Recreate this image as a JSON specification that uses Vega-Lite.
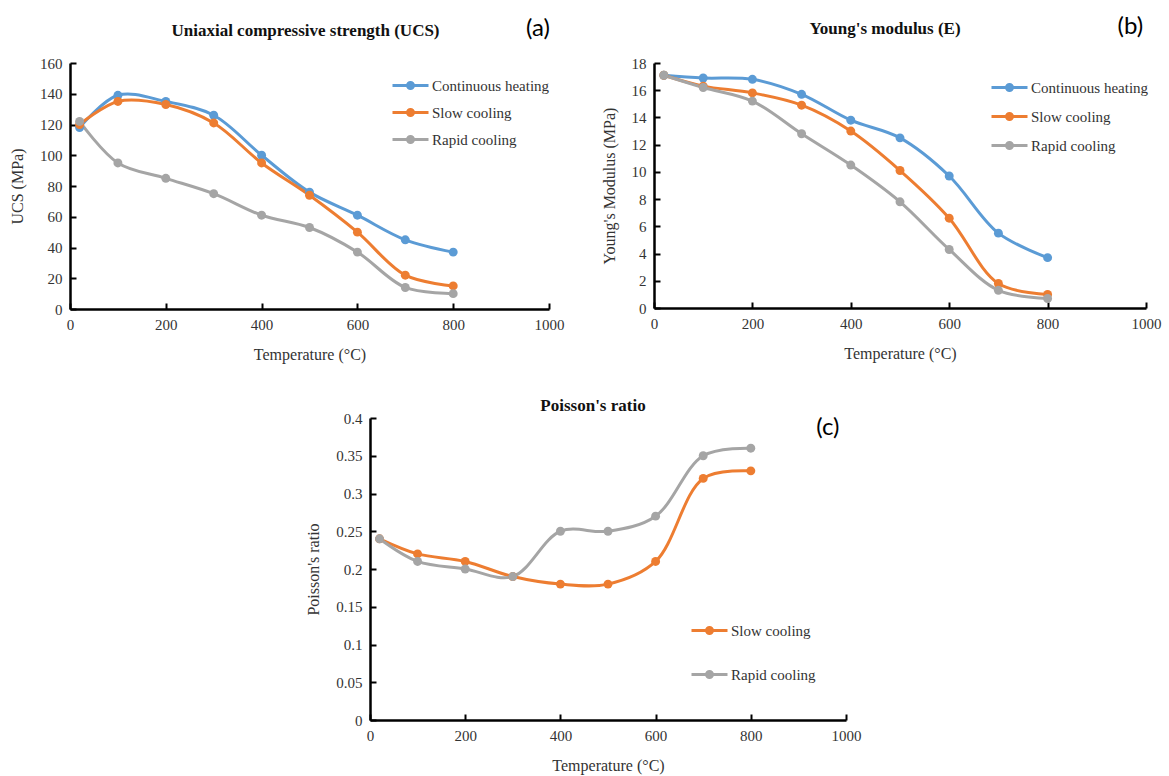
{
  "$schema": "https://vega.github.io/schema/vega-lite/v6.json",
  "background": "white",
  "padding": {"left": 9, "top": 15, "right": 2, "bottom": 2},
  "datasets": {
    "ucs": [
      {"T": 20, "v": 118, "s": "Continuous heating"},
      {"T": 100, "v": 139, "s": "Continuous heating"},
      {"T": 200, "v": 135, "s": "Continuous heating"},
      {"T": 300, "v": 126, "s": "Continuous heating"},
      {"T": 400, "v": 100, "s": "Continuous heating"},
      {"T": 500, "v": 76, "s": "Continuous heating"},
      {"T": 600, "v": 61, "s": "Continuous heating"},
      {"T": 700, "v": 45, "s": "Continuous heating"},
      {"T": 800, "v": 37, "s": "Continuous heating"},
      {"T": 20, "v": 120, "s": "Slow cooling"},
      {"T": 100, "v": 135, "s": "Slow cooling"},
      {"T": 200, "v": 133, "s": "Slow cooling"},
      {"T": 300, "v": 121, "s": "Slow cooling"},
      {"T": 400, "v": 95, "s": "Slow cooling"},
      {"T": 500, "v": 74, "s": "Slow cooling"},
      {"T": 600, "v": 50, "s": "Slow cooling"},
      {"T": 700, "v": 22, "s": "Slow cooling"},
      {"T": 800, "v": 15, "s": "Slow cooling"},
      {"T": 20, "v": 122, "s": "Rapid cooling"},
      {"T": 100, "v": 95, "s": "Rapid cooling"},
      {"T": 200, "v": 85, "s": "Rapid cooling"},
      {"T": 300, "v": 75, "s": "Rapid cooling"},
      {"T": 400, "v": 61, "s": "Rapid cooling"},
      {"T": 500, "v": 53, "s": "Rapid cooling"},
      {"T": 600, "v": 37, "s": "Rapid cooling"},
      {"T": 700, "v": 14, "s": "Rapid cooling"},
      {"T": 800, "v": 10, "s": "Rapid cooling"}
    ],
    "young": [
      {"T": 20, "v": 17.1, "s": "Continuous heating"},
      {"T": 100, "v": 16.9, "s": "Continuous heating"},
      {"T": 200, "v": 16.8, "s": "Continuous heating"},
      {"T": 300, "v": 15.7, "s": "Continuous heating"},
      {"T": 400, "v": 13.8, "s": "Continuous heating"},
      {"T": 500, "v": 12.5, "s": "Continuous heating"},
      {"T": 600, "v": 9.7, "s": "Continuous heating"},
      {"T": 700, "v": 5.5, "s": "Continuous heating"},
      {"T": 800, "v": 3.7, "s": "Continuous heating"},
      {"T": 20, "v": 17.1, "s": "Slow cooling"},
      {"T": 100, "v": 16.3, "s": "Slow cooling"},
      {"T": 200, "v": 15.8, "s": "Slow cooling"},
      {"T": 300, "v": 14.9, "s": "Slow cooling"},
      {"T": 400, "v": 13.0, "s": "Slow cooling"},
      {"T": 500, "v": 10.1, "s": "Slow cooling"},
      {"T": 600, "v": 6.6, "s": "Slow cooling"},
      {"T": 700, "v": 1.8, "s": "Slow cooling"},
      {"T": 800, "v": 1.0, "s": "Slow cooling"},
      {"T": 20, "v": 17.1, "s": "Rapid cooling"},
      {"T": 100, "v": 16.2, "s": "Rapid cooling"},
      {"T": 200, "v": 15.2, "s": "Rapid cooling"},
      {"T": 300, "v": 12.8, "s": "Rapid cooling"},
      {"T": 400, "v": 10.5, "s": "Rapid cooling"},
      {"T": 500, "v": 7.8, "s": "Rapid cooling"},
      {"T": 600, "v": 4.3, "s": "Rapid cooling"},
      {"T": 700, "v": 1.3, "s": "Rapid cooling"},
      {"T": 800, "v": 0.7, "s": "Rapid cooling"}
    ],
    "poisson": [
      {"T": 20, "v": 0.24, "s": "Slow cooling"},
      {"T": 100, "v": 0.22, "s": "Slow cooling"},
      {"T": 200, "v": 0.21, "s": "Slow cooling"},
      {"T": 300, "v": 0.19, "s": "Slow cooling"},
      {"T": 400, "v": 0.18, "s": "Slow cooling"},
      {"T": 500, "v": 0.18, "s": "Slow cooling"},
      {"T": 600, "v": 0.21, "s": "Slow cooling"},
      {"T": 700, "v": 0.32, "s": "Slow cooling"},
      {"T": 800, "v": 0.33, "s": "Slow cooling"},
      {"T": 20, "v": 0.24, "s": "Rapid cooling"},
      {"T": 100, "v": 0.21, "s": "Rapid cooling"},
      {"T": 200, "v": 0.20, "s": "Rapid cooling"},
      {"T": 300, "v": 0.19, "s": "Rapid cooling"},
      {"T": 400, "v": 0.25, "s": "Rapid cooling"},
      {"T": 500, "v": 0.25, "s": "Rapid cooling"},
      {"T": 600, "v": 0.27, "s": "Rapid cooling"},
      {"T": 700, "v": 0.35, "s": "Rapid cooling"},
      {"T": 800, "v": 0.36, "s": "Rapid cooling"}
    ]
  },
  "vconcat": [
    {
      "hconcat": [
        {
          "width": 479,
          "height": 246,
          "title": {"text": "Uniaxial compressive strength (UCS)", "frame": "group", "offset": -23, "dx": -4},
          "layer": [
            {
              "data": {"name": "ucs"},
              "mark": {"type": "line", "interpolate": "catmull-rom", "strokeWidth": 3},
              "encoding": {
                "x": {"field": "T", "type": "quantitative", "scale": {"domain": [0, 1000], "nice": false}, "axis": {"values": [0, 200, 400, 600, 800, 1000], "format": "d", "labelOverlap": false, "labelFlush": false, "title": "Temperature (°C)"}},
                "y": {"field": "v", "type": "quantitative", "scale": {"domain": [0, 160], "nice": false}, "axis": {"values": [0, 20, 40, 60, 80, 100, 120, 140, 160], "format": "d", "labelOverlap": false, "labelFlush": false, "title": "UCS (MPa)"}},
                "color": {"field": "s", "type": "nominal", "sort": null,
                  "scale": {"domain": ["Continuous heating", "Slow cooling", "Rapid cooling"], "range": ["#5B9BD5", "#ED7D31", "#A5A5A5"]},
                  "legend": {"title": null, "orient": "none", "legendX": 339, "legendY": 12, "rowPadding": 7}}
              }
            },
            {
              "data": {"name": "ucs"},
              "mark": {"type": "point", "filled": true, "size": 80, "opacity": 1},
              "encoding": {
                "x": {"field": "T", "type": "quantitative", "axis": {"values": [0, 200, 400, 600, 800, 1000], "format": "d", "labelOverlap": false, "labelFlush": false, "title": "Temperature (°C)"}},
                "y": {"field": "v", "type": "quantitative", "axis": {"values": [0, 20, 40, 60, 80, 100, 120, 140, 160], "format": "d", "labelOverlap": false, "labelFlush": false, "title": "UCS (MPa)"}},
                "color": {"field": "s", "type": "nominal", "sort": null}
              }
            },
            {
              "data": {"values": [{"label": "(a)"}]},
              "mark": {"type": "text", "font": "Lato", "fontSize": 24, "dy": -34, "color": "black"},
              "encoding": {
                "x": {"datum": 977, "type": "quantitative", "axis": {"values": [0, 200, 400, 600, 800, 1000], "format": "d", "labelOverlap": false, "labelFlush": false, "title": "Temperature (°C)"}},
                "y": {"datum": 160, "type": "quantitative", "axis": {"values": [0, 20, 40, 60, 80, 100, 120, 140, 160], "format": "d", "labelOverlap": false, "labelFlush": false, "title": "UCS (MPa)"}},
                "text": {"field": "label"}
              }
            }
          ]
        },
        {
          "width": 492,
          "height": 245,
          "title": {"text": "Young's modulus (E)", "frame": "group", "offset": -23, "dx": -15},
          "layer": [
            {
              "data": {"name": "young"},
              "mark": {"type": "line", "interpolate": "catmull-rom", "strokeWidth": 3},
              "encoding": {
                "x": {"field": "T", "type": "quantitative", "scale": {"domain": [0, 1000], "nice": false}, "axis": {"values": [0, 200, 400, 600, 800, 1000], "format": "d", "labelOverlap": false, "labelFlush": false, "title": "Temperature (°C)"}},
                "y": {"field": "v", "type": "quantitative", "scale": {"domain": [0, 18], "nice": false}, "axis": {"values": [0, 2, 4, 6, 8, 10, 12, 14, 16, 18], "format": "d", "labelOverlap": false, "labelFlush": false, "title": "Young's Modulus (MPa)"}},
                "color": {"field": "s", "type": "nominal", "sort": null,
                  "scale": {"domain": ["Continuous heating", "Slow cooling", "Rapid cooling"], "range": ["#5B9BD5", "#ED7D31", "#A5A5A5"]},
                  "legend": {"title": null, "orient": "none", "legendX": 354, "legendY": 14, "rowPadding": 9}}
              }
            },
            {
              "data": {"name": "young"},
              "mark": {"type": "point", "filled": true, "size": 80, "opacity": 1},
              "encoding": {
                "x": {"field": "T", "type": "quantitative", "axis": {"values": [0, 200, 400, 600, 800, 1000], "format": "d", "labelOverlap": false, "labelFlush": false, "title": "Temperature (°C)"}},
                "y": {"field": "v", "type": "quantitative", "axis": {"values": [0, 2, 4, 6, 8, 10, 12, 14, 16, 18], "format": "d", "labelOverlap": false, "labelFlush": false, "title": "Young's Modulus (MPa)"}},
                "color": {"field": "s", "type": "nominal", "sort": null}
              }
            },
            {
              "data": {"values": [{"label": "(b)"}]},
              "mark": {"type": "text", "font": "Lato", "fontSize": 24, "dy": -36, "color": "black"},
              "encoding": {
                "x": {"datum": 968, "type": "quantitative", "axis": {"values": [0, 200, 400, 600, 800, 1000], "format": "d", "labelOverlap": false, "labelFlush": false, "title": "Temperature (°C)"}},
                "y": {"datum": 18, "type": "quantitative", "axis": {"values": [0, 2, 4, 6, 8, 10, 12, 14, 16, 18], "format": "d", "labelOverlap": false, "labelFlush": false, "title": "Young's Modulus (MPa)"}},
                "text": {"field": "label"}
              }
            }
          ]
        }
      ],
      "spacing": 37,
      "resolve": {"scale": {"color": "independent", "x": "independent", "y": "independent"}, "legend": {"color": "independent"}}
    },
    {
      "width": 476,
      "height": 302,
      "title": {"text": "Poisson's ratio", "frame": "group", "offset": -4, "dx": -15},
      "layer": [
        {
          "data": {"name": "poisson"},
          "mark": {"type": "line", "interpolate": "catmull-rom", "strokeWidth": 3},
          "encoding": {
            "x": {"field": "T", "type": "quantitative", "scale": {"domain": [0, 1000], "nice": false}, "axis": {"values": [0, 200, 400, 600, 800, 1000], "format": "d", "labelOverlap": false, "labelFlush": false, "title": "Temperature (°C)"}},
            "y": {"field": "v", "type": "quantitative", "scale": {"domain": [0, 0.4], "nice": false}, "axis": {"values": [0, 0.05, 0.1, 0.15, 0.2, 0.25, 0.3, 0.35, 0.4], "format": ".2~f", "labelOverlap": false, "labelFlush": false, "titlePadding": 14, "title": "Poisson's ratio"}},
            "color": {"field": "s", "type": "nominal", "sort": null,
              "scale": {"domain": ["Slow cooling", "Rapid cooling"], "range": ["#ED7D31", "#A5A5A5"]},
              "legend": {"title": null, "orient": "none", "legendX": 338, "legendY": 202, "rowPadding": 24}}
          }
        },
        {
          "data": {"name": "poisson"},
          "mark": {"type": "point", "filled": true, "size": 80, "opacity": 1},
          "encoding": {
            "x": {"field": "T", "type": "quantitative", "axis": {"values": [0, 200, 400, 600, 800, 1000], "format": "d", "labelOverlap": false, "labelFlush": false, "title": "Temperature (°C)"}},
            "y": {"field": "v", "type": "quantitative", "axis": {"values": [0, 0.05, 0.1, 0.15, 0.2, 0.25, 0.3, 0.35, 0.4], "format": ".2~f", "labelOverlap": false, "labelFlush": false, "titlePadding": 14, "title": "Poisson's ratio"}},
            "color": {"field": "s", "type": "nominal", "sort": null}
          }
        },
        {
          "data": {"values": [{"label": "(c)"}]},
          "mark": {"type": "text", "font": "Lato", "fontSize": 24, "dy": 10, "color": "black"},
          "encoding": {
            "x": {"datum": 962, "type": "quantitative", "axis": {"values": [0, 200, 400, 600, 800, 1000], "format": "d", "labelOverlap": false, "labelFlush": false, "title": "Temperature (°C)"}},
            "y": {"datum": 0.4, "type": "quantitative", "axis": {"values": [0, 0.05, 0.1, 0.15, 0.2, 0.25, 0.3, 0.35, 0.4], "format": ".2~f", "labelOverlap": false, "labelFlush": false, "titlePadding": 14, "title": "Poisson's ratio"}},
            "text": {"field": "label"}
          }
        }
      ]
    }
  ],
  "spacing": 35,
  "center": true,
  "resolve": {"scale": {"color": "independent", "x": "independent", "y": "independent"}, "legend": {"color": "independent"}},
  "config": {
    "font": "Liberation Serif",
    "view": {"stroke": null},
    "axis": {
      "grid": false,
      "domainColor": "black",
      "domainWidth": 2.5,
      "tickColor": "black",
      "tickWidth": 2,
      "tickSize": -6,
      "labelPadding": 14,
      "labelOverlap": false,
      "labelFlush": false,
      "labelFont": "Liberation Serif",
      "labelFontSize": 15,
      "labelColor": "#333",
      "titleFont": "Liberation Serif",
      "titleFontSize": 16,
      "titleFontWeight": "normal",
      "titleColor": "#333"
    },
    "axisX": {"titlePadding": 14},
    "axisY": {"titlePadding": 14},
    "legend": {
      "labelFont": "Liberation Serif",
      "labelFontSize": 15,
      "labelColor": "#333",
      "labelOffset": 2,
      "symbolType": "M-3,0L1,0M-0.667,0A0.333,0.333,0,1,1,-1.333,0A0.333,0.333,0,1,1,-0.667,0Z",
      "symbolSize": 324,
      "symbolStrokeWidth": 3,
      "symbolOpacity": 1,
      "padding": 0
    },
    "title": {"font": "Liberation Serif", "fontSize": 17, "fontWeight": "bold", "color": "#111"}
  }
}
